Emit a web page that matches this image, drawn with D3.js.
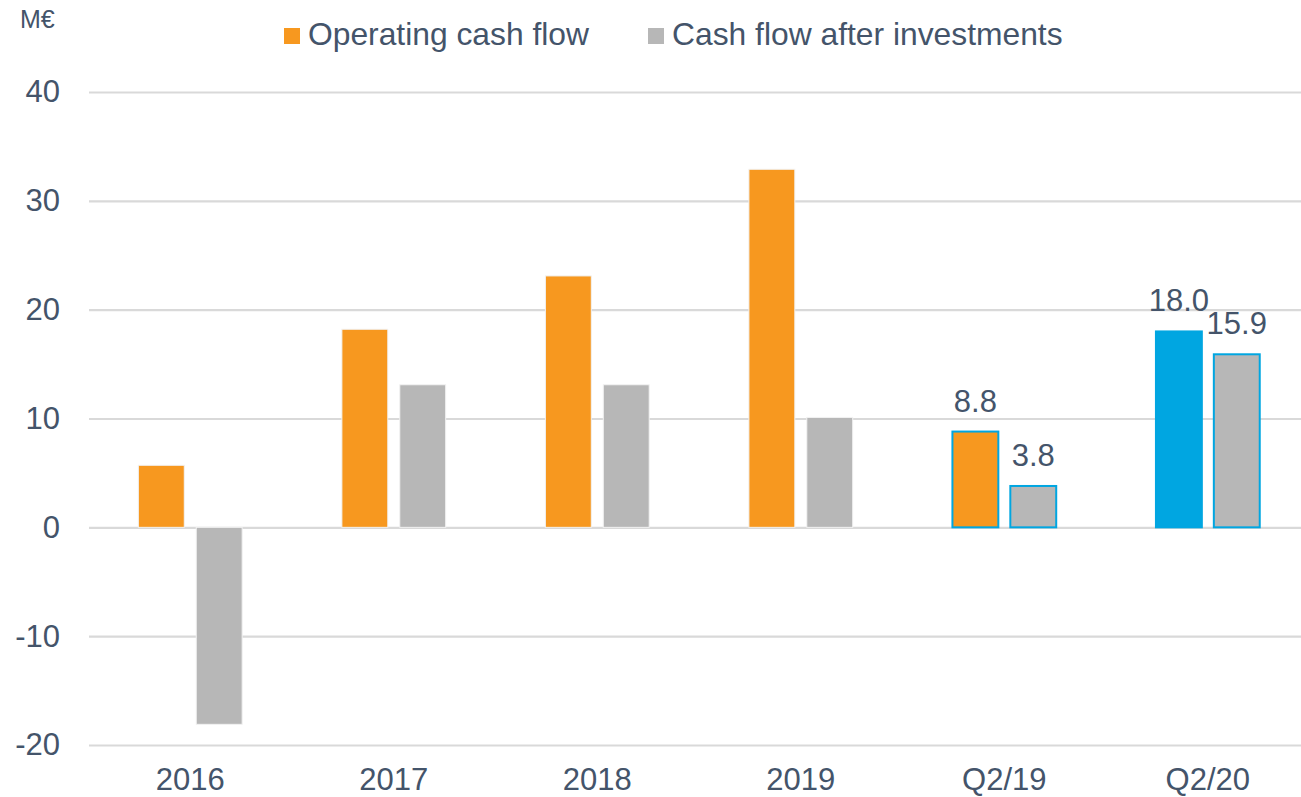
<!DOCTYPE html>
<html>
<head>
<meta charset="utf-8">
<script src="https://cdn.jsdelivr.net/npm/d3@7"></script>
<style>
  html, body { margin: 0; padding: 0; background: #ffffff; }
  svg { display: block; font-family: "Liberation Sans", Arial, sans-serif; }
</style>
</head>
<body>
<svg id="chart" width="1301" height="797"></svg>
<script>
const categories = ["2016", "2017", "2018", "2019", "Q2/19", "Q2/20"];
const seriesNames = ["Operating cash flow", "Cash flow after investments"];
const operatingCashFlow = [5.7, 18.2, 23.1, 32.9, 8.8, 18.0];
const cashFlowAfterInvestments = [-18.1, 13.1, 13.1, 10.1, 3.8, 15.9];
const yTicks = [-20, -10, 0, 10, 20, 30, 40];
const highlighted = ["Q2/19", "Q2/20"];
const labelled = ["Q2/19", "Q2/20"];
const unitLabel = "M€";

const colors = { orange: "#f7981f", gray: "#b7b7b7", blue: "#00a6e1", text: "#44546a", grid: "#d9d9d9" };
const mainFont = "31px";

const svg = d3.select("#chart");

const x0 = d3.scaleBand().domain(categories).range([88.5, 1309.6])
  .paddingInner(0.49).paddingOuter(0.245);
const x1 = d3.scaleBand().domain(seriesNames).range([0, x0.bandwidth()])
  .paddingInner(0.207).paddingOuter(0);
const y = d3.scaleLinear().domain([-20, 40]).range([745, 92]);

// gridlines
const grid = svg.append("g")
  .attr("transform", "translate(89,0)")
  .call(d3.axisLeft(y).tickValues(yTicks).tickSize(-1230).tickFormat(""));
grid.select(".domain").remove();
grid.selectAll(".tick line").attr("stroke", colors.grid).attr("stroke-width", 2.2);

// y labels
const yAxis = svg.append("g")
  .attr("transform", "translate(60,0)")
  .call(d3.axisLeft(y).tickValues(yTicks).tickSize(0).tickPadding(0).tickFormat(d => String(d)));
yAxis.select(".domain").remove();
yAxis.selectAll("text").attr("fill", colors.text).style("font-size", mainFont)
  .style("font-family", "'Liberation Sans', Arial, sans-serif");

// x labels
const xAxis = svg.append("g")
  .attr("transform", "translate(0,790)")
  .call(d3.axisBottom(x0).tickSize(0).tickPadding(0));
xAxis.select(".domain").remove();
xAxis.selectAll("text").attr("fill", colors.text).style("font-size", mainFont)
  .attr("y", 0).attr("dy", 0)
  .style("font-family", "'Liberation Sans', Arial, sans-serif");

// bars
const rows = categories.map((c, i) => ({
  cat: c,
  values: [
    { series: seriesNames[0], value: operatingCashFlow[i] },
    { series: seriesNames[1], value: cashFlowAfterInvestments[i] }
  ]
}));

function fillFor(cat, series) {
  if (series === seriesNames[1]) return colors.gray;
  return cat === "Q2/20" ? colors.blue : colors.orange;
}

const groups = svg.append("g").selectAll("g").data(rows).join("g")
  .attr("transform", d => `translate(${x0(d.cat)},0)`);

groups.selectAll("rect").data(d => d.values.map(v => ({ ...v, cat: d.cat }))).join("rect")
  .attr("x", d => x1(d.series))
  .attr("width", x1.bandwidth())
  .attr("y", d => y(Math.max(0, d.value)))
  .attr("height", d => Math.abs(y(d.value) - y(0)))
  .attr("fill", d => fillFor(d.cat, d.series))
  .attr("stroke", d => highlighted.includes(d.cat) ? colors.blue : "#f2f2f2")
  .attr("stroke-width", d => highlighted.includes(d.cat) ? 2 : 1);

groups.filter(d => labelled.includes(d.cat)).selectAll("text")
  .data(d => d.values.map(v => ({ ...v, cat: d.cat }))).join("text")
  .attr("x", d => x1(d.series) + x1.bandwidth() / 2)
  .attr("y", d => y(d.value) - 20)
  .attr("text-anchor", "middle")
  .attr("fill", colors.text)
  .style("font-size", mainFont)
  .text(d => d3.format(".1f")(d.value));

// unit label
svg.append("text").attr("x", 20).attr("y", 28).attr("fill", colors.text)
  .style("font-size", "25px").text(unitLabel);

// legend
const legendItems = [
  { name: seriesNames[0], color: colors.orange, x: 284 },
  { name: seriesNames[1], color: colors.gray, x: 648 }
];
const legend = svg.append("g").selectAll("g").data(legendItems).join("g")
  .attr("transform", d => `translate(${d.x},28)`);
legend.append("rect").attr("width", 16).attr("height", 16).attr("fill", d => d.color);
legend.append("text").attr("x", 24).attr("y", 17).attr("fill", colors.text)
  .style("font-size", "31.8px").text(d => d.name);
</script>
</body>
</html>
